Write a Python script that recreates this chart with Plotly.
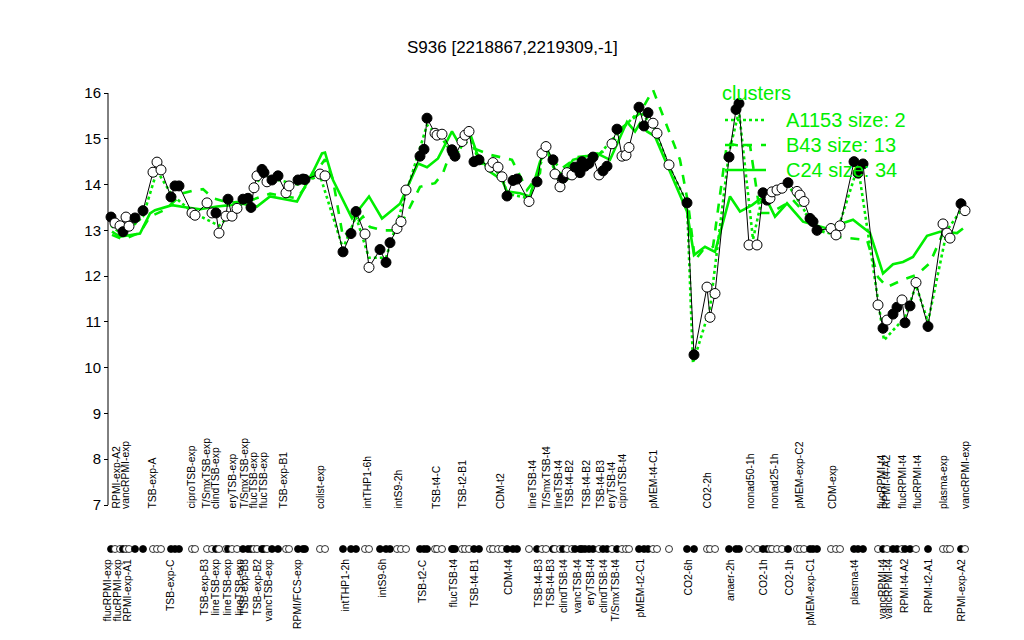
import plotly.graph_objects as go

# ---------------- data (x = sample position on the plot, value = expression) ----------------
x_pos = [111,115,120,123,126,129,135,143,153,157,161,171,175,179,192,195,207,212,216,219,
         226,228,232,237,243,248,251,254,257,262,264,267,272,278,286,289,298,303,305,320,
         325,343,351,356,365,369,380,386,390,397,401,406,420,424,427,435,437,442,452,453,
         455,462,465,469,474,479,490,493,498,502,507,513,517,529,537,542,546,553,555,560,
         563,567,572,575,580,582,585,589,593,599,603,607,612,617,622,626,629,639,644,648,
         653,657,669,687,694,707,710,715,729,736,739,749,757,763,767,770,772,777,782,788,
         797,800,804,810,813,817,831,836,840,854,858,863,878,883,887,893,897,902,905,910,
         916,928,943,947,950,961,965]
values = [13.29,13.16,13.10,12.97,13.29,13.09,13.27,13.43,14.27,14.49,14.32,13.73,13.97,13.97,13.38,13.33,13.60,13.38,13.38,12.94,
          13.31,13.68,13.31,13.48,13.68,13.70,13.50,13.93,14.19,14.33,14.26,14.06,14.10,14.19,13.82,13.97,14.10,14.12,14.11,14.23,
          14.19,12.53,12.93,13.41,12.92,12.19,12.58,12.30,12.73,13.04,13.19,13.88,14.62,14.77,15.45,15.12,15.08,15.10,14.76,14.70,
          14.62,14.94,15.08,15.16,14.50,14.54,14.38,14.48,14.38,14.17,13.75,14.09,14.12,13.63,14.06,14.68,14.83,14.54,14.23,13.95,
          14.14,14.26,14.21,14.38,14.26,14.50,14.40,14.46,14.60,14.21,14.30,14.40,14.89,15.21,14.62,14.64,14.81,15.69,15.28,15.57,
          15.34,15.12,14.43,13.60,10.28,11.76,11.10,11.62,14.60,15.64,15.77,12.68,12.68,13.82,13.66,13.70,13.84,13.88,13.92,14.04,
          13.85,13.77,13.63,13.26,13.19,13.00,13.04,12.90,13.10,14.50,14.25,14.45,11.37,10.86,11.04,11.17,11.32,11.48,10.98,11.35,
          11.86,10.90,13.14,12.94,12.83,13.58,13.43]
filled = [1,0,0,1,0,0,1,1,0,0,0,1,1,1,0,0,0,0,1,0,
          0,1,0,0,1,1,1,0,0,1,1,0,1,1,0,0,1,1,1,0,
          0,1,1,1,0,0,1,1,1,0,0,0,1,1,1,0,0,0,1,1,
          1,0,0,0,1,1,0,0,0,0,1,1,1,0,1,0,0,1,0,0,
          1,0,0,1,1,1,1,1,1,0,1,1,0,1,0,0,0,1,1,1,
          0,0,0,1,1,0,0,0,1,1,1,0,0,1,1,0,0,0,0,1,
          0,0,0,1,1,1,0,0,0,1,1,1,0,1,0,1,1,0,1,1,
          0,1,0,0,0,1,0]

# cluster profiles
c24_x = [112,120,140,150,155,172,187,200,217,230,240,257,270,297,313,322,325,333,352,369,
         382,400,418,427,438,452,457,470,477,490,502,507,520,530,540,547,555,563,573,597,
         610,627,635,640,647,655,687,694,705,715,730,740,752,760,767,775,787,803,827,853,
         870,883,893,903,913,927,940,957,963]
c24_v = [12.97,12.86,12.93,13.37,13.44,13.55,13.50,13.46,13.52,13.55,13.59,13.52,13.74,13.63,14.28,14.68,14.70,14.10,13.26,13.74,
         13.26,13.58,14.46,14.38,14.57,15.16,14.97,15.12,14.68,14.28,14.10,13.85,13.81,13.74,14.50,14.79,14.32,14.21,14.54,14.68,
         14.54,15.37,15.16,15.34,15.16,15.05,13.41,12.46,12.64,12.53,13.74,13.41,13.55,13.68,13.66,13.30,13.59,13.19,13.04,13.23,
         12.94,12.06,12.26,12.31,12.42,12.88,12.97,12.94,13.04]
b43_x = [112,123,140,150,165,183,195,203,213,230,250,270,297,313,325,333,340,343,363,370,
         383,397,407,420,435,443,453,463,473,490,512,527,540,543,560,577,597,610,623,640,
         653,667,680,688,695,703,713,727,737,750,760,770,793,807,820,840,867,878,887,903,
         917,930,943,953]
b43_v = [12.90,12.80,12.95,13.30,13.45,13.81,13.88,13.90,13.70,13.60,13.65,13.80,13.70,14.20,14.55,14.10,13.23,12.85,13.30,13.07,
         13.00,13.00,13.38,13.95,14.03,14.25,14.86,14.97,14.80,14.65,14.54,13.88,14.25,14.93,14.32,14.60,14.65,14.80,15.26,15.56,
         16.07,15.26,14.54,13.60,12.35,12.57,12.64,14.90,14.86,14.86,13.38,13.38,13.66,13.33,13.00,12.85,12.79,11.98,11.76,11.92,
         12.03,12.29,12.94,13.00]
a1153_x = [111,123,143,157,171,192,219,243,262,278,298,320,343,356,369,386,406,427,442,455,
           469,479,502,507,529,546,560,593,617,639,653,669,687,693,710,729,739,753,763,788,
           817,836,858,884,905,916,928,947,963]
a1153_v = [13.10,12.90,13.30,14.30,13.80,13.40,13.10,13.60,14.20,14.10,14.00,14.20,12.60,13.30,12.40,12.40,13.80,15.30,15.00,14.60,
           15.10,14.50,14.20,13.80,13.70,14.80,14.00,14.50,15.10,15.60,15.30,14.40,13.60,10.10,11.30,14.70,15.60,12.80,13.80,14.00,
           13.00,12.90,14.40,10.60,11.10,11.80,11.00,13.00,13.50]

above_labels = [(116,"RPMI-exp-A2"),(125,"vancRPMI-exp"),(152,"TSB-exp-A"),(191,"ciproTSB-exp"),(206,"T/SmxTSB-exp"),
                (215,"clindTSB-exp"),(232,"eryTSB-exp"),(244,"T/SmxTSB-exp"),(253,"flucTSB-exp"),(263,"flucTSB-exp"),
                (283,"TSB-exp-B1"),(320,"colist-exp"),(367,"intTHP1-6h"),(398,"intS9-2h"),(436,"TSB-t4-C"),
                (462,"TSB-t2-B1"),(500,"CDM-t2"),(532,"lineTSB-t4"),(546,"T/SmxTSB-t4"),(558,"lineTSB-t4"),
                (569,"TSB-t4-B2"),(586,"TSB-t4-B2"),(600,"TSB-t4-B3"),(611,"eryTSB-t4"),(622,"ciproTSB-t4"),
                (653,"pMEM-t4-C1"),(707,"CO2-2h"),(750,"nonad50-1h"),(774,"nonad25-1h"),(799,"pMEM-exp-C2"),
                (832,"CDM-exp"),(881,"flucRPMI-t4"),(886,"RPMI-t4-A2"),(902,"flucRPMI-t4"),(917,"flucRPMI-t4"),
                (943,"plasma-exp"),(965,"vancRPMI-exp")]
below_labels = [(107,"flucRPMI-exp"),(117,"flucRPMI-exp"),(127,"RPMI-exp-A1"),(170,"TSB-exp-C"),(204,"TSB-exp-B3"),
                (215,"lineTSB-exp"),(227,"lineTSB-exp"),(239,"lineTSB-exp"),(244,"TSB-exp-B3"),(257,"TSB-exp-B2"),
                (268,"vancTSB-exp"),(297,"RPMI/FCS-exp"),(345,"intTHP1-2h"),(382,"intS9-6h"),(422,"TSB-t2-C"),
                (453,"flucTSB-t4"),(474,"TSB-t4-B1"),(508,"CDM-t4"),(538,"TSB-t4-B3"),(550,"TSB-t4-B3"),
                (563,"clindTSB-t4"),(577,"vancTSB-t4"),(590,"eryTSB-t4"),(603,"clindTSB-t4"),(615,"T/SmxTSB-t4"),
                (640,"pMEM-t2-C1"),(688,"CO2-6h"),(730,"anaer-2h"),(763,"CO2-1h"),(789,"CO2-1h"),
                (810,"pMEM-exp-C1"),(854,"plasma-t4"),(882,"vancRPMI-t4"),(888,"vancRPMI-t4"),(904,"RPMI-t4-A2"),
                (928,"RPMI-t2-A1"),(961,"RPMI-exp-A2")]

legend_items = [("A1153 size: 2", "dot"), ("B43 size: 13", "dash"), ("C24 size: 34", "solid")]
y_ticks = [7, 8, 9, 10, 11, 12, 13, 14, 15, 16]

# ---------------- layout helpers ----------------
OFF = 8                      # page body margin of the browser
W, H = 1024 - 2 * OFF, 640 - 2 * OFF
Y16_PX, Y7_PX = 93.0, 505.0
PPU = (Y7_PX - Y16_PX) / 9.0


def yv(py):
    """value at a given page row"""
    return 16 - (py - Y16_PX) / PPU


GREEN = "#00ee00"
FONT = "Liberation Sans, Arial, Helvetica, sans-serif"
LABEL_SIZE = 10.4

fig = go.Figure()

for xs, vs, d in [(a1153_x, a1153_v, "dot"), (b43_x, b43_v, "dash"), (c24_x, c24_v, "solid")]:
    fig.add_trace(go.Scatter(x=xs, y=vs, mode="lines",
                             line=dict(color=GREEN, width=2.6, dash=d),
                             hoverinfo="skip", showlegend=False))

colors = ["black" if f else "white" for f in filled]
fig.add_trace(go.Scatter(x=x_pos, y=values, mode="lines+markers",
                         line=dict(color="black", width=1),
                         marker=dict(size=10, color=colors, line=dict(color="black", width=1)),
                         showlegend=False))

# dot row of sample markers
row_y = yv(549)
fig.add_trace(go.Scatter(x=x_pos, y=[row_y] * len(x_pos), mode="markers",
                         marker=dict(size=7, color=colors, line=dict(color="black", width=0.8)),
                         showlegend=False, hoverinfo="skip"))

annotations = []
for x, t in above_labels:
    annotations.append(dict(x=x, y=yv(511), text=t, textangle=-90, showarrow=False,
                            xanchor="center", yanchor="bottom", xref="x", yref="y",
                            font=dict(size=LABEL_SIZE, color="black", family=FONT)))
for x, t in below_labels:
    annotations.append(dict(x=x, y=yv(557), text=t, textangle=-90, showarrow=False,
                            xanchor="center", yanchor="top", xref="x", yref="y",
                            font=dict(size=LABEL_SIZE, color="black", family=FONT)))

# title
annotations.append(dict(x=512, y=yv(47), text="S936 [2218867,2219309,-1]", showarrow=False,
                        xanchor="center", yanchor="middle", font=dict(size=17, color="black", family=FONT)))

# legend
annotations.append(dict(x=720, y=yv(93), text="clusters", showarrow=False, xanchor="left",
                        yanchor="middle", font=dict(size=20, color=GREEN, family=FONT)))
leg_rows = [120, 145, 170]
for (txt, d), py in zip(legend_items, leg_rows):
    fig.add_trace(go.Scatter(x=[725, 766], y=[yv(py), yv(py)], mode="lines",
                             line=dict(color=GREEN, width=2.6, dash=d),
                             showlegend=False, hoverinfo="skip"))
    annotations.append(dict(x=784, y=yv(py), text=txt, showarrow=False, xanchor="left",
                            yanchor="middle", font=dict(size=20, color=GREEN, family=FONT)))

AXIS_X = 108
shapes = [dict(type="line", x0=AXIS_X, x1=AXIS_X, y0=7, y1=16, xref="x", yref="y",
               line=dict(color="black", width=1))]

fig.update_layout(
    width=W, height=H,
    margin=dict(l=0, r=0, t=0, b=0),
    paper_bgcolor="white", plot_bgcolor="white",
    xaxis=dict(range=[OFF, OFF + W], showgrid=False, zeroline=False, showticklabels=False,
               ticks="", showline=False, fixedrange=True),
    yaxis=dict(range=[yv(OFF + H), yv(OFF)], showgrid=False, zeroline=False, showline=False,
               tickvals=y_ticks, ticktext=[str(v) for v in y_ticks],
               ticks="outside", ticklen=4, tickcolor="black", tickwidth=1,
               anchor="free", position=(AXIS_X - OFF) / W,
               tickfont=dict(size=15, color="black", family=FONT), fixedrange=True),
    annotations=annotations,
    shapes=shapes,
    showlegend=False,
)

fig.write_html("out.html")
